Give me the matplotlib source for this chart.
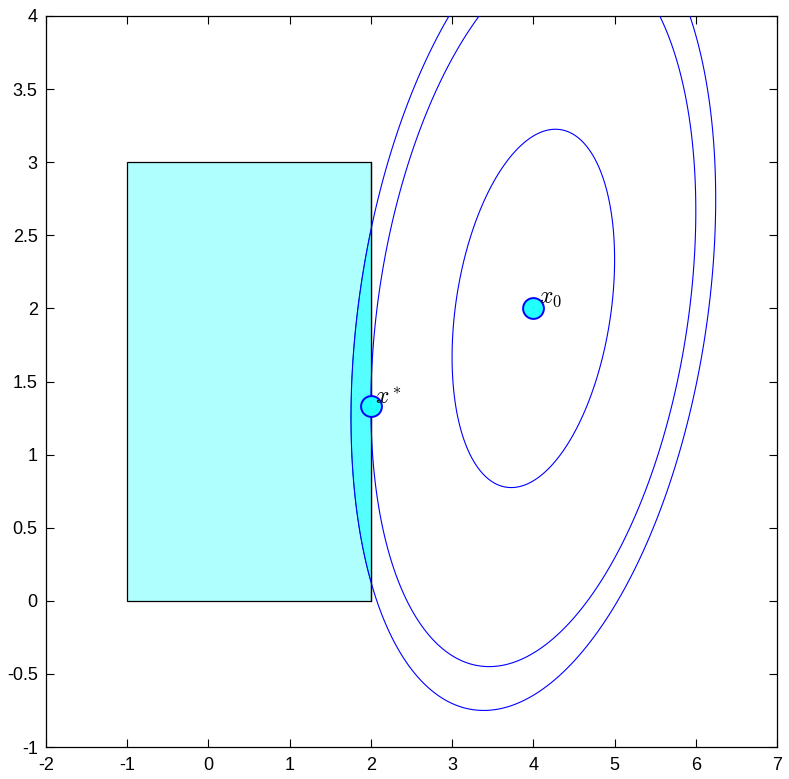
import numpy as np
import matplotlib
matplotlib.use('Agg')
import matplotlib.pyplot as plt
from matplotlib.patches import Rectangle

# quadratic objective (x - x0)^T P (x - x0), box constraint, solution
P = np.array([[4.5, -1.0], [-1.0, 3.0]])
x0 = [4.0, 2.0]
xstar = [2.0, 4.0 / 3.0]
levels = [4.17, 16.67, 21.0]
box_x = [-1.0, 2.0]
box_y = [0.0, 3.0]
xlim = [-2, 7]
ylim = [-1, 4]


def quad(X, Y):
    dx = X - x0[0]
    dy = Y - x0[1]
    return P[0, 0] * dx**2 + 2 * P[0, 1] * dx * dy + P[1, 1] * dy**2


plt.rcParams['font.family'] = ['Liberation Sans', 'DejaVu Sans']
plt.rcParams['mathtext.fontset'] = 'cm'

fig = plt.figure(figsize=(7.89, 7.79), dpi=100)
ax = fig.add_axes([0.0583, 0.041, 0.9265, 0.9385])

# box
ax.add_patch(Rectangle((box_x[0], box_y[0]), box_x[1] - box_x[0], box_y[1] - box_y[0],
                       facecolor='#b0ffff', edgecolor='black', linewidth=0.9, zorder=1))

# feasible part of outer sublevel set
bx = np.linspace(box_x[0], box_x[1], 400)
by = np.linspace(box_y[0], box_y[1], 400)
BX, BY = np.meshgrid(bx, by)
ax.contourf(BX, BY, quad(BX, BY), levels=[0, levels[-1]], colors=['#55ffff'], zorder=2)
ax.contour(BX, BY, quad(BX, BY), levels=[levels[-1]], colors=['#008080'], linewidths=0.6, zorder=2)

# level curves
gx = np.linspace(xlim[0], xlim[1], 800)
gy = np.linspace(ylim[0], ylim[1], 800)
GX, GY = np.meshgrid(gx, gy)
ax.contour(GX, GY, quad(GX, GY), levels=levels, colors='#0000ff', linewidths=0.8, zorder=3)

ax.plot([box_x[1], box_x[1]], box_y, color='black', linewidth=0.9, zorder=2.5)

# points
for p in (x0, xstar):
    ax.plot(p[0], p[1], 'o', markersize=15, markerfacecolor='#22ffff',
            markeredgecolor='#0000ff', markeredgewidth=1.4, zorder=4)
ax.text(x0[0] + 0.07, x0[1] + 0.04, r'$x_0$', fontsize=17, zorder=5)
ax.text(xstar[0] + 0.05, xstar[1] + 0.01, r'$x^*$', fontsize=17, zorder=5)

ax.set_xlim(xlim)
ax.set_ylim(ylim)
ax.set_xticks(np.arange(-2, 8, 1))
ax.set_yticks(np.arange(-1, 4.5, 0.5))
ax.set_yticklabels(['-1', '-0.5', '0', '0.5', '1', '1.5', '2', '2.5', '3', '3.5', '4'])
ax.set_xticklabels([str(v) for v in range(-2, 8)])
ax.tick_params(direction='in', top=True, right=True, labelsize=13, length=6, width=0.8)
ax.tick_params(axis='x', pad=7)
ax.tick_params(axis='y', pad=6)
for s in ax.spines.values():
    s.set_linewidth(0.9)

fig.savefig('out.png', dpi=100)
